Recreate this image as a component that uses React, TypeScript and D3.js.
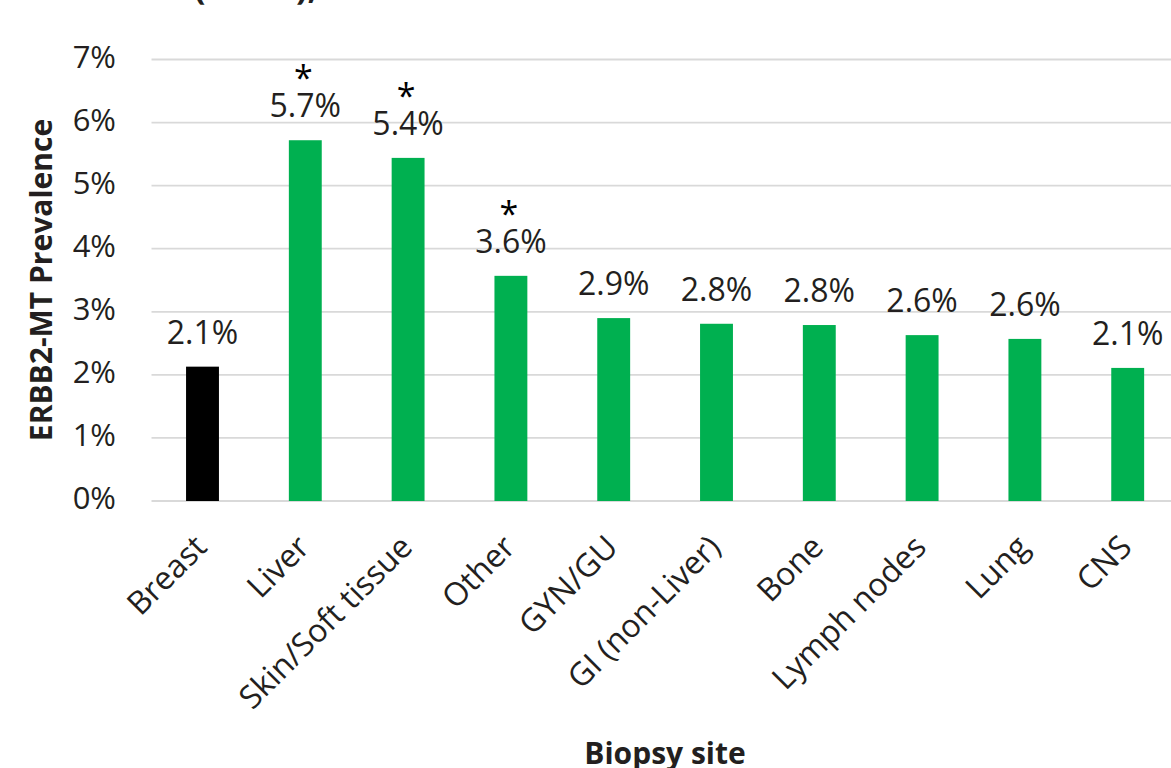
import React from "react";
import * as d3 from "d3";

const categories = [
  "Breast",
  "Liver",
  "Skin/Soft tissue",
  "Other",
  "GYN/GU",
  "GI (non-Liver)",
  "Bone",
  "Lymph nodes",
  "Lung",
  "CNS",
];
const prevalence = [0.0213, 0.0572, 0.0544, 0.0357, 0.029, 0.0281, 0.0279, 0.0263, 0.0257, 0.0211];
const significant = [false, true, true, true, false, false, false, false, false, false];
const referenceSite = "Breast";
const yTicks = [0, 0.01, 0.02, 0.03, 0.04, 0.05, 0.06, 0.07];
const yAxisTitle = "ERBB2-MT Prevalence";
const xAxisTitle = "Biopsy site";

const W = 1171;
const H = 768;
const FONT = "'Open Sans', 'Noto Sans', sans-serif";
const TEXT = "#231f20";

export default function App() {
  const x = d3.scaleBand<string>().domain(categories).range([151.1, 1179.1]).paddingInner(0.68).paddingOuter(0.34);
  const y = d3.scaleLinear().domain([0, 0.07]).range([501, 59.5]);
  const fmt = d3.format(".1%");
  const tickFmt = d3.format(".0%");

  return (
    <div style={{ position: "absolute", left: 0, top: 0 }}>
      <svg width={W} height={H} style={{ display: "block", background: "#fff" }} fontFamily={FONT}>
        {/* cut-off title remnants at the top */}
        <text x={194} y={-1} fontSize={34} fontWeight="bold" fill={TEXT}>(</text>
        <text x={296} y={-1} fontSize={34} fontWeight="bold" fill={TEXT}>),</text>

        {/* gridlines */}
        {yTicks.map((t) => (
          <line key={"g" + t} x1={151.5} x2={W} y1={y(t)} y2={y(t)} stroke="#d9d9d9" strokeWidth={1.8} />
        ))}

        {/* y tick labels */}
        {yTicks.map((t) => (
          <text key={"t" + t} x={116} y={y(t) + 8} textAnchor="end" fontSize={31} fill={TEXT}>
            {tickFmt(t)}
          </text>
        ))}

        {/* bars */}
        {categories.map((c, i) => (
          <rect
            key={"b" + c}
            x={x(c)}
            y={y(prevalence[i])}
            width={x.bandwidth()}
            height={y(0) - y(prevalence[i])}
            fill={c === referenceSite ? "#000000" : "#00b050"}
          />
        ))}

        {/* value labels (with significance asterisk as a first line) */}
        {categories.map((c, i) => {
          const cx = (x(c) as number) + x.bandwidth() / 2;
          const base = y(prevalence[i]) - 23;
          return (
            <text key={"l" + c} textAnchor="middle" fill={TEXT}>
              {significant[i] && (
                <tspan x={cx - 2} y={base - 27} fontSize={34} fill="#000">
                  *
                </tspan>
              )}
              <tspan x={cx} y={base} fontSize={32}>
                {fmt(prevalence[i])}
              </tspan>
            </text>
          );
        })}

        {/* x category labels */}
        {categories.map((c) => {
          const cx = (x(c) as number) + x.bandwidth() / 2;
          return (
            <text
              key={"x" + c}
              transform={`translate(${cx + 6},${549}) rotate(-45)`}
              textAnchor="end"
              fontSize={32}
              fill={TEXT}
            >
              {c}
            </text>
          );
        })}

        {/* axis titles */}
        <text
          transform={`translate(${52},${280}) rotate(-90)`}
          textAnchor="middle"
          fontSize={30}
          fontWeight="bold"
          fill={TEXT}
        >
          {yAxisTitle}
        </text>
        <text x={665} y={764} textAnchor="middle" fontSize={30} fontWeight="bold" fill={TEXT}>
          {xAxisTitle}
        </text>
      </svg>
    </div>
  );
}
